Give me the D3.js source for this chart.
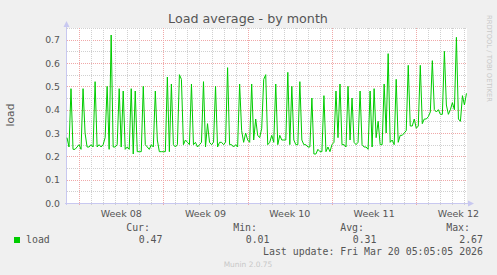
<!DOCTYPE html>
<html><head><meta charset="utf-8">
<script src="https://cdn.jsdelivr.net/npm/d3@7"></script>
<style>html,body{margin:0;padding:0;background:#f0f0f0;}svg{display:block;}</style>
</head><body>
<svg id="c" width="497" height="275"></svg>
<script>
const title = "Load average - by month";
const seriesName = "load";
const startTime = Date.UTC(2026, 1, 15, 0, 0);   // first sample
const endTime = Date.UTC(2026, 2, 20, 5, 5);      // last update
const stepHours = 4;
const loadValues = [
0.28,0.24,0.49,0.23,0.23,0.24,0.25,0.23,0.49,0.30,
0.24,0.24,0.25,0.24,0.52,0.24,0.25,0.24,0.25,0.28,
0.50,0.23,0.72,0.24,0.24,0.25,0.49,0.24,0.48,0.23,
0.24,0.23,0.49,0.21,0.48,0.22,0.22,0.22,0.50,0.25,
0.24,0.23,0.25,0.24,0.48,0.27,0.22,0.22,0.22,0.22,
0.54,0.22,0.51,0.25,0.24,0.25,0.55,0.53,0.25,0.27,
0.26,0.25,0.51,0.25,0.26,0.24,0.25,0.26,0.52,0.24,
0.34,0.26,0.25,0.26,0.50,0.24,0.26,0.26,0.25,0.26,
0.58,0.25,0.25,0.24,0.25,0.24,0.51,0.31,0.26,0.30,
0.27,0.26,0.51,0.27,0.36,0.29,0.28,0.32,0.53,0.55,
0.25,0.26,0.29,0.26,0.51,0.25,0.29,0.27,0.27,0.27,
0.56,0.25,0.50,0.27,0.25,0.25,0.52,0.27,0.25,0.25,
0.24,0.24,0.45,0.21,0.21,0.23,0.22,0.22,0.46,0.22,
0.24,0.22,0.25,0.26,0.48,0.28,0.51,0.25,0.25,0.24,
0.50,0.27,0.45,0.26,0.25,0.26,0.48,0.25,0.24,0.24,
0.23,0.48,0.24,0.49,0.28,0.35,0.25,0.25,0.51,0.30,
0.64,0.26,0.27,0.25,0.53,0.26,0.29,0.29,0.30,0.31,
0.59,0.33,0.33,0.36,0.32,0.33,0.59,0.34,0.36,0.36,
0.37,0.39,0.61,0.40,0.39,0.40,0.38,0.38,0.65,0.42,
0.38,0.40,0.43,0.40,0.71,0.36,0.35,0.46,0.42,0.47
];
const yTicks = [0.0,0.1,0.2,0.3,0.4,0.5,0.6,0.7];
const weekStarts = [Date.UTC(2026,1,16), Date.UTC(2026,1,23), Date.UTC(2026,2,2), Date.UTC(2026,2,9), Date.UTC(2026,2,16)];
const weekLabels = ["Week 08","Week 09","Week 10","Week 11","Week 12"];
const legendHeaders = ["Cur:","Min:","Avg:","Max:"];
const legendValues = ["0.47","0.01","0.31","2.67"];
const lastUpdate = "Last update: Fri Mar 20 05:05:05 2026";
const credit = "Munin 2.0.75";
const sideText = "RRDTOOL / TOBI OETIKER";

const svg = d3.select("#c");
const L = 67, R = 467, T = 28, B = 203;
const x = d3.scaleUtc().domain([startTime, endTime]).range([L, R]);
const y = d3.scaleLinear().domain([0, 0.75]).range([B, T]);

const data = loadValues.map((v, i) => ({t: startTime + i * stepHours * 3600e3, v}));

svg.append("rect").attr("x", L).attr("y", T).attr("width", R - L).attr("height", B - T).attr("fill", "#fff");

const g = svg.append("g");
// minor horizontal grid
const minorY = d3.range(0, 16).map(i => i * 0.05);
minorY.forEach(v => {
  const major = Math.abs(v * 10 - Math.round(v * 10)) < 1e-6;
  if (v === 0) return;
  g.append("line").attr("x1", L).attr("x2", R).attr("y1", Math.round(y(v)) + 0.5).attr("y2", Math.round(y(v)) + 0.5)
    .attr("stroke", major ? "#f0a8a8" : "#d0d0d0").attr("stroke-dasharray", "1,1");
});
// vertical day / week grid
const days = d3.utcDay.range(new Date(startTime + 1), new Date(endTime));
days.forEach(d => {
  const isWeek = d.getUTCDay() === 1;
  const xx = Math.round(x(d)) + 0.5;
  g.append("line").attr("x1", xx).attr("x2", xx).attr("y1", T).attr("y2", B + 2)
    .attr("stroke", isWeek ? "#f0a8a8" : "#d0d0d0").attr("stroke-dasharray", "1,1");
});

// axes
const axisColor = "#c8c8f0";
svg.append("line").attr("x1", L - 0.5).attr("x2", L - 0.5).attr("y1", B + 2).attr("y2", 24).attr("stroke", axisColor);
svg.append("line").attr("x1", L - 2).attr("x2", R + 2).attr("y1", B + 0.5).attr("y2", B + 0.5).attr("stroke", axisColor);
svg.append("path").attr("d", `M${L-3.5},${27} L${L-0.5},${21} L${L+2.5},${27} Z`).attr("fill", axisColor);
svg.append("path").attr("d", `M${R+1},${B-2.5} L${R+7},${B+0.5} L${R+1},${B+3.5} Z`).attr("fill", axisColor);

// series line
const line = d3.line().x(d => x(d.t)).y(d => y(d.v));
svg.append("path").datum(data).attr("d", line).attr("fill", "none").attr("stroke", "#00cc00").attr("stroke-width", 1);

// y tick labels
const font = "'DejaVu Sans', sans-serif";
svg.append("g").selectAll("text").data(yTicks).join("text")
  .attr("x", 60).attr("y", d => y(d) + 3.5).attr("text-anchor", "end")
  .attr("font-family", font).attr("font-size", 9.3).attr("fill", "#555")
  .text(d => d.toFixed(1));

// x labels centred mid-week
svg.append("g").selectAll("text").data(weekStarts).join("text")
  .attr("x", d => x(d + 3.5 * 86400e3)).attr("y", 217).attr("text-anchor", "middle")
  .attr("font-family", font).attr("font-size", 9.5).attr("fill", "#555")
  .text((d, i) => weekLabels[i]);

// title
svg.append("text").attr("x", 248).attr("y", 23).attr("text-anchor", "middle")
  .attr("font-family", font).attr("font-size", 12.7).attr("fill", "#555").text(title);

// y axis label
svg.append("text").attr("transform", "translate(14,115) rotate(-90)").attr("text-anchor", "middle")
  .attr("font-family", font).attr("font-size", 10.7).attr("fill", "#555").text(seriesName);

// side text
svg.append("text").attr("transform", "translate(487,15) rotate(90)").attr("text-anchor", "start")
  .attr("font-family", font).attr("font-size", 6.75).attr("fill", "#c8c8c8").text(sideText);

// legend
const mono = "'DejaVu Sans Mono', monospace";
const colRight = [150, 257, 364, 470];
svg.append("g").selectAll("text").data(legendHeaders).join("text")
  .attr("x", (d, i) => colRight[i]).attr("y", 231).attr("text-anchor", "end")
  .attr("font-family", mono).attr("font-size", 9.9).attr("fill", "#555").text(d => d);
const valRight = [162.5, 269.5, 376.5, 483];
svg.append("g").selectAll("text").data(legendValues).join("text")
  .attr("x", (d, i) => valRight[i]).attr("y", 243).attr("text-anchor", "end")
  .attr("font-family", mono).attr("font-size", 9.9).attr("fill", "#555").text(d => d);
svg.append("rect").attr("x", 14).attr("y", 237).attr("width", 6).attr("height", 6).attr("fill", "#00cc00");
svg.append("text").attr("x", 26).attr("y", 243).attr("font-family", mono).attr("font-size", 9.9).attr("fill", "#555").text(seriesName);
svg.append("text").attr("x", 483).attr("y", 255).attr("text-anchor", "end")
  .attr("font-family", mono).attr("font-size", 9.9).attr("fill", "#555").text(lastUpdate);
svg.append("text").attr("x", 248).attr("y", 267).attr("text-anchor", "middle")
  .attr("font-family", font).attr("font-size", 7.45).attr("fill", "#c8c8c8").text(credit);
</script>
</body></html>
